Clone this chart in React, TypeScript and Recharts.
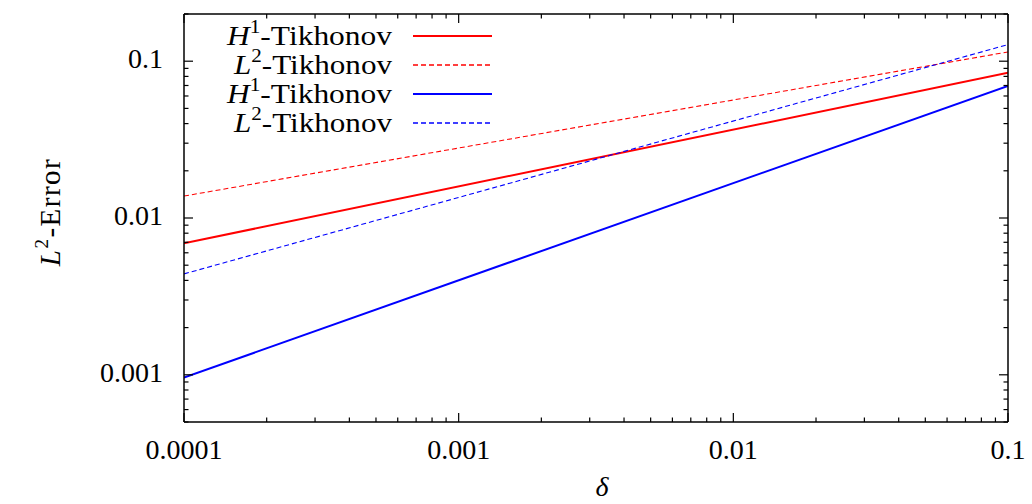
import { LineChart, Line, XAxis, YAxis, ReferenceLine, Legend } from "recharts"

// delta values at both ends of the range; every curve is a straight line in log-log
const delta = [1e-4, 0.1]
const redH1 = [0.0069, 0.0843]
const redL2 = [0.0138, 0.1146]
const blueH1 = [0.00096, 0.0696]
const blueL2 = [0.0044, 0.1277]

const xDomain = [1e-4, 0.1]
const yDomain = [5e-4, 0.2]
const xDecades = [1e-4, 1e-3, 1e-2, 1e-1]
const yDecades = [1e-4, 1e-3, 1e-2, 1e-1]
const minorSteps = [1, 2, 3, 4, 5, 6, 7, 8, 9]

const series = [
  { key: "redH1", letter: "H", sup: "1", color: "#ff0000", width: 2, dash: undefined },
  { key: "redL2", letter: "L", sup: "2", color: "#ff0000", width: 1.1, dash: "5 3" },
  { key: "blueH1", letter: "H", sup: "1", color: "#0000ff", width: 2, dash: undefined },
  { key: "blueL2", letter: "L", sup: "2", color: "#0000ff", width: 1.1, dash: "5 3" },
]

const rows = delta.map((d, i) => ({
  delta: d,
  redH1: redH1[i],
  redL2: redL2[i],
  blueH1: blueH1[i],
  blueL2: blueL2[i],
}))

const inRange = (v: number, [lo, hi]: number[]) => v >= lo * 0.999 && v <= hi * 1.001
const logTicks = (decades: number[], domain: number[]) =>
  decades.flatMap((d) => minorSteps.map((m) => m * d)).filter((v) => inRange(v, domain))

const xTicks = logTicks(xDecades, xDomain)
const yTicks = logTicks(yDecades, yDomain)

const isDecade = (v: number) => Math.abs(Math.log10(v) - Math.round(Math.log10(v))) < 1e-6
const fmt = (v: number) => v.toFixed(Math.max(0, -Math.round(Math.log10(v))))

// frame geometry
const W = 1032
const H = 504
const margin = { top: 14, right: 24, left: 124, bottom: 52 }
const Y_AXIS_W = 60
const X_AXIS_H = 30
const LEFT = margin.left + Y_AXIS_W
const RIGHT = W - margin.right
const TOP = margin.top
const BOTTOM = H - margin.bottom - X_AXIS_H

const FONT = "'Liberation Serif', 'Times New Roman', serif"
const MAJOR = 9
const MINOR = 4.5

const XTick = (props: any) => {
  const { x, payload } = props
  const major = isDecade(payload.value)
  const len = major ? MAJOR : MINOR
  return (
    <g>
      <line x1={x} x2={x} y1={BOTTOM} y2={BOTTOM - len} stroke="#000" strokeWidth={1.2} />
      <line x1={x} x2={x} y1={TOP} y2={TOP + len} stroke="#000" strokeWidth={1.2} />
      {major && (
        <text x={x} y={BOTTOM + 37} textAnchor="middle" fontFamily={FONT} fontSize={28} fill="#000">
          {fmt(payload.value)}
        </text>
      )}
    </g>
  )
}

const YTick = (props: any) => {
  const { y, payload } = props
  const major = isDecade(payload.value)
  const len = major ? MAJOR : MINOR
  return (
    <g>
      <line x1={LEFT} x2={LEFT + len} y1={y} y2={y} stroke="#000" strokeWidth={1.2} />
      <line x1={RIGHT} x2={RIGHT - len} y1={y} y2={y} stroke="#000" strokeWidth={1.2} />
      {major && (
        <text x={LEFT - 21} y={y + 7} textAnchor="end" fontFamily={FONT} fontSize={28} fill="#000">
          {fmt(payload.value)}
        </text>
      )}
    </g>
  )
}

const YLabel = () => (
  <text
    transform="translate(60, 212) rotate(-90)"
    textAnchor="middle"
    fontFamily={FONT}
    fontSize={29}
    letterSpacing={1.5}
    fill="#000"
  >
    <tspan fontStyle="italic">L</tspan>
    <tspan fontSize={19} dy={-12}>2</tspan>
    <tspan dy={12}>-Error</tspan>
  </text>
)

const XLabel = () => (
  <text x={602} y={496} textAnchor="middle" fontFamily={FONT} fontSize={28} fontStyle="italic" fill="#000">
    δ
  </text>
)

const KeyBox = () => (
  <svg width={520} height={150} style={{ display: "block" }}>
    {series.map((s, i) => {
      const base = 45 + i * 29
      return (
        <g key={s.key}>
          <text
            x={392}
            y={base}
            textAnchor="end"
            fontFamily={FONT}
            fontSize={28}
            fill="#000"
            textLength={s.letter === "H" ? 165 : 158}
            lengthAdjust="spacingAndGlyphs"
          >
            <tspan fontStyle="italic">{s.letter}</tspan>
            <tspan fontSize={19} dy={-12}>{s.sup}</tspan>
            <tspan dy={12}>-Tikhonov</tspan>
          </text>
          <path
            d={`M413 ${base - 9} H492`}
            fill="none"
            stroke={s.color}
            strokeWidth={s.dash ? 1.4 : s.width}
            strokeDasharray={s.dash}
          />
        </g>
      )
    })}
  </svg>
)

export default function App() {
  return (
    <div style={{ position: "absolute", left: 0, top: 0, background: "#fff" }}>
      <LineChart width={W} height={H} data={rows} margin={margin}>
        <XAxis
          dataKey="delta"
          type="number"
          scale="log"
          domain={xDomain}
          allowDataOverflow
          ticks={xTicks}
          interval={0}
          height={X_AXIS_H}
          axisLine={false}
          tickLine={false}
          tick={<XTick />}
          label={<XLabel />}
        />
        <YAxis
          type="number"
          scale="log"
          domain={yDomain}
          allowDataOverflow
          ticks={yTicks}
          interval={0}
          width={Y_AXIS_W}
          axisLine={false}
          tickLine={false}
          tick={<YTick />}
          label={<YLabel />}
        />
        {series.map((s) => (
          <Line
            key={s.key}
            dataKey={s.key}
            type="linear"
            stroke={s.color}
            strokeWidth={s.width}
            strokeDasharray={s.dash}
            dot={false}
            activeDot={false}
            isAnimationActive={false}
          />
        ))}
        <ReferenceLine x={xDomain[0]} stroke="#000" strokeWidth={1.5} />
        <ReferenceLine x={xDomain[1]} stroke="#000" strokeWidth={1.5} />
        <ReferenceLine y={yDomain[0]} stroke="#000" strokeWidth={1.5} />
        <ReferenceLine y={yDomain[1]} stroke="#000" strokeWidth={1.5} />
        <Legend
          layout="vertical"
          align="center"
          verticalAlign="middle"
          wrapperStyle={{ position: "absolute", left: 0, top: 0, width: 520, height: 150 }}
          content={() => <KeyBox />}
        />
      </LineChart>
    </div>
  )
}
